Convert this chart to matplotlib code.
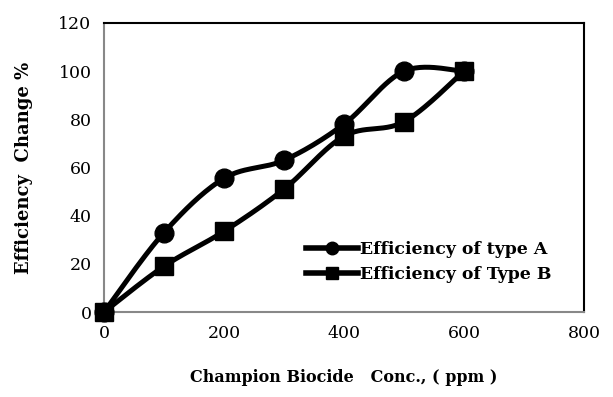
import numpy as np
import matplotlib
matplotlib.use("Agg")
import matplotlib.pyplot as plt
from matplotlib.lines import Line2D

conc = [0, 100, 200, 300, 400, 500, 600]
eff_a = [0, 33, 55.5, 63, 78, 100, 100]
eff_b = [0, 19, 33.5, 51, 73, 79, 100]
xticks = [0, 200, 400, 600, 800]
yticks = [0, 20, 40, 60, 80, 100, 120]

plt.rcParams['font.family'] = ['DejaVu Serif']

fig = plt.figure(figsize=(6.13, 3.97), dpi=100)
ax = fig.add_axes([0.1697, 0.2141, 0.783, 0.728])


def smooth(xs, ys, n=30):
    xs = np.asarray(xs, float); ys = np.asarray(ys, float)
    px = xs / 800.0 * 480; py = ys / 120.0 * 290
    P = np.column_stack([px, py])
    P = np.vstack([P[0], P, P[-1]])
    out = []
    for i in range(1, len(P) - 2):
        p0, p1, p2, p3 = P[i - 1], P[i], P[i + 1], P[i + 2]
        t = np.linspace(0, 1, n)[:, None]
        c1 = p1 + (p2 - p0) / 6.0
        c2 = p2 - (p3 - p1) / 6.0
        seg = ((1 - t) ** 3) * p1 + 3 * ((1 - t) ** 2) * t * c1 + 3 * (1 - t) * t ** 2 * c2 + t ** 3 * p2
        out.append(seg)
    out = np.vstack(out)
    return out[:, 0] * 800 / 480, out[:, 1] * 120 / 290


for ys, mk in [(eff_a, 'o'), (eff_b, 's')]:
    sx, sy = smooth(conc, ys)
    ax.plot(sx, sy, color='black', lw=3.6, solid_capstyle='round', zorder=3)
    ax.plot(conc, ys, linestyle='none', marker=mk, color='black',
            markersize=13.5, zorder=4, clip_on=False)

ax.set_xlim(0, 800)
ax.set_ylim(0, 120)
ax.set_xticks(xticks)
ax.set_yticks(yticks)
ax.tick_params(length=0, labelsize=12.5, pad=9)
for s in ['top', 'right']:
    ax.spines[s].set_color('black')
    ax.spines[s].set_linewidth(1.5)
for s in ['left', 'bottom']:
    ax.spines[s].set_color('#888888')
    ax.spines[s].set_linewidth(1.5)

ax.set_xlabel('Champion Biocide   Conc., ( ppm )', fontsize=11.5, fontweight='bold', labelpad=20)
ax.set_ylabel('Efficiency  Change %', fontsize=13, fontweight='bold', labelpad=18)

handles = [Line2D([], [], color='black', lw=4, marker='o', markersize=9),
           Line2D([], [], color='black', lw=4, marker='s', markersize=9)]
ax.legend(handles, ['Efficiency of type A', 'Efficiency of Type B'],
          loc='center left', bbox_to_anchor=(0.421, 0.174), frameon=False,
          prop={'weight': 'bold', 'size': 12.4}, handlelength=3.0,
          handletextpad=0.12, labelspacing=0.45, borderaxespad=0,
          borderpad=0)

fig.savefig('out.png', dpi=100)
